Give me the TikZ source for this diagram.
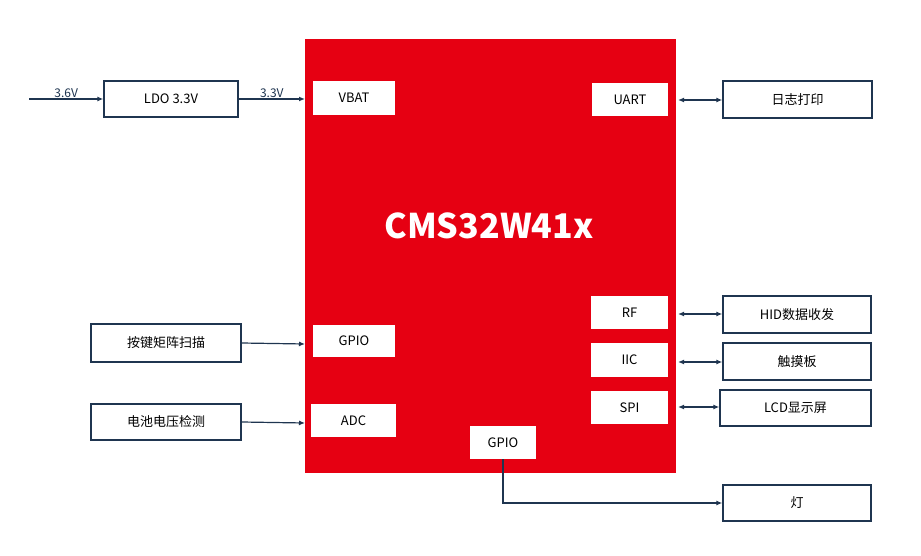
\documentclass[tikz,border=0pt]{standalone}
\usepackage{fontspec}
\setmainfont{Noto Sans CJK SC}
\usetikzlibrary{arrows.meta}
\definecolor{chip}{HTML}{E60012}
\definecolor{ln}{HTML}{1F3550}
\begin{document}
\begin{tikzpicture}[x=1pt,y=-1pt,
 port/.style={fill=white,draw=none,inner sep=0pt,font=\fontsize{13}{15}\selectfont},
 ext/.style={draw=ln,line width=1.4pt,fill=white,inner sep=0pt,font=\fontsize{13}{15}\selectfont},
 a/.style={ln,line width=1.2pt,-{Latex[length=6pt,width=5pt]}},
 b/.style={ln,line width=1.2pt,{Latex[length=6pt,width=5pt]}-{Latex[length=6pt,width=5pt]}},
 lab/.style={font=\fontsize{12}{14}\selectfont,inner sep=1pt}]
\useasboundingbox (0,0) rectangle (921,556);
\fill[chip] (305,39) rectangle (676,473);
\node[font=\bfseries\fontsize{34}{38}\selectfont,white] (t) at (489,226) {CMS32W41x};
\newcommand{\bx}[6]{\node[#1,minimum width=#4-#2,minimum height=#5-#3] (#6) at ({(#2+#4)/2},{(#3+#5)/2})}
\bx{port}{313}{81}{395}{115}{vbat} {VBAT};
\bx{port}{592}{83}{668}{116}{uart} {UART};
\bx{port}{591}{296}{668}{329}{rf} {RF};
\bx{port}{591}{343}{668}{377}{iic} {IIC};
\bx{port}{591}{391}{668}{424}{spi} {SPI};
\bx{port}{470}{426}{536}{459}{gpiob} {GPIO};
\bx{port}{313}{325}{395}{357}{gpiol} {GPIO};
\bx{port}{311}{404}{396}{437}{adc} {ADC};
\bx{ext}{104}{81}{238}{117}{ldo} {LDO 3.3V};
\bx{ext}{91}{324}{241}{362}{key} {按键矩阵扫描};
\bx{ext}{91}{404}{241}{440}{bat} {电池电压检测};
\bx{ext}{723}{81}{872}{118}{log} {日志打印};
\bx{ext}{723}{296}{871}{333}{hid} {HID数据收发};
\bx{ext}{723}{343}{871}{380}{tp} {触摸板};
\bx{ext}{720}{390}{871}{426}{lcd} {LCD显示屏};
\bx{ext}{723}{485}{871}{521}{lamp} {灯};
\coordinate (in) at (29,99);
\coordinate (chipl) at (305,99);
\draw[a] (in) -- node[lab,above]{3.6V} (ldo.west);
\draw[a] (ldo.east) -- node[lab,above]{3.3V} (chipl);
\coordinate (c1) at (305,344); \coordinate (c2) at (305,423);
\draw[a] (key.east) -- (c1);
\draw[a] (bat.east) -- (c2);
\coordinate (r1) at (678,100); \coordinate (r2) at (678,314);
\coordinate (r3) at (678,362); \coordinate (r4) at (678,407);
\draw[b] (r1) -- (log.west |- r1);
\draw[b] (r2) -- (hid.west |- r2);
\draw[b] (r3) -- (tp.west |- r3);
\draw[b] (r4) -- (lcd.west |- r4);
\draw[a] (gpiob.south) |- (lamp.west);
\end{tikzpicture}
\end{document}
